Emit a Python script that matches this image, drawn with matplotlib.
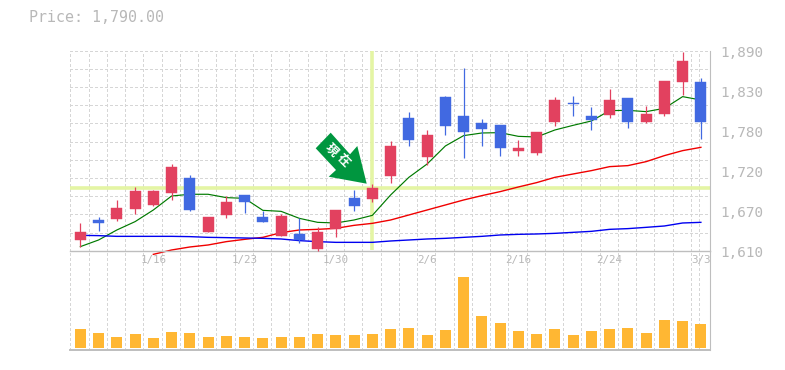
import matplotlib
matplotlib.use("Agg")
import matplotlib.pyplot as plt
from matplotlib.patches import Polygon
from matplotlib.transforms import Affine2D
import numpy as np

WIDTH, HEIGHT = 785, 370

# candles
highs = [1648.8, 1657.2, 1681, 1699.2, 1695, 1731.4, 1716, 1657.7, 1686.6, 1688, 1665.6, 1661.4,
         1655.8, 1643.2, 1667, 1695, 1703.4, 1763.6, 1804.2, 1779, 1826.6, 1865.8, 1794.4, 1786,
         1765, 1776.2, 1825.2, 1826.6, 1811.2, 1836.4, 1823.8, 1812.6, 1847.6, 1888.2, 1851.8]
lows = [1615.2, 1637.6, 1651.6, 1661.4, 1672.6, 1681, 1665.6, 1636.2, 1655.8, 1662.8, 1650.2, 1630.6,
        1620.8, 1609.6, 1629.2, 1665.6, 1678.2, 1704.8, 1756.6, 1730, 1772, 1739.8, 1756.6, 1742.6,
        1742.6, 1744, 1784.6, 1798.6, 1779, 1795.8, 1781.8, 1788.8, 1798.6, 1828, 1766.4]
opens = [1625, 1653, 1654.4, 1668.4, 1674, 1690.8, 1711.8, 1636.2, 1660, 1688, 1657.2, 1630.6,
         1633.4, 1612.4, 1640.4, 1683.8, 1682.4, 1714.6, 1795.8, 1741.2, 1825.2, 1798.6, 1788.8, 1786,
         1749.6, 1746.8, 1790.2, 1816.8, 1798.6, 1800, 1823.8, 1790.2, 1801.4, 1846.2, 1846.2]
closes = [1636.2, 1648.8, 1669.8, 1693.6, 1693.6, 1727.2, 1667, 1657.2, 1678.2, 1678.2, 1650.2, 1658.6,
          1625, 1636.2, 1667, 1672.6, 1697.8, 1756.6, 1765, 1772, 1784.6, 1776.2, 1780.4, 1753.8,
          1753.8, 1776.2, 1821, 1815.4, 1793, 1821, 1790.2, 1801.4, 1847.6, 1875.6, 1790.2]

# moving averages
ma_green = [1615.7, 1625, 1639, 1650.7, 1667, 1686.6, 1689, 1689, 1684.3, 1683.3, 1666.5, 1665.1,
            1655.3, 1649.7, 1648.8, 1653, 1659.5, 1688, 1712.7, 1731.4, 1756.6, 1771.1, 1774.8, 1775.3,
            1770.1, 1769.2, 1779, 1785.5, 1791.6, 1806.1, 1806.5, 1804.7, 1809.3, 1825.7, 1821]
ma_red = [np.nan, np.nan, np.nan, np.nan, 1604.9, 1611, 1615.2, 1618, 1622.7, 1625.9, 1628.7, 1635.3,
          1639, 1639.9, 1641.3, 1645.5, 1648.3, 1653, 1660, 1667, 1674, 1681, 1687.1, 1692.7,
          1699.2, 1705.3, 1712.7, 1717.4, 1722.1, 1727.7, 1729.1, 1734.7, 1743.1, 1750.1, 1754.7]
ma_blue = [1631.5, 1631.1, 1630.1, 1630.1, 1630.1, 1630.1, 1629.7, 1628.7, 1628.3, 1627.8, 1627.3, 1626.4,
           1624.1, 1622.7, 1621.7, 1621.7, 1621.7, 1623.6, 1625, 1626.4, 1627.3, 1628.7, 1630.1, 1632,
           1632.9, 1633.4, 1634.3, 1635.7, 1637.1, 1639.9, 1640.9, 1642.7, 1644.6, 1648.8, 1649.7]

volumes = [57, 45, 33, 42, 30, 48, 45, 33, 36, 33, 30, 33, 33, 42, 39, 39, 42, 57,
           60, 39, 54, 213, 96, 75, 51, 42, 57, 39, 51, 57, 60, 45, 84, 81, 72]

date_idx = [4, 9, 14, 19, 24, 29, 34]
date_labels = ["1/16", "1/23", "1/30", "2/6", "2/16", "2/24", "3/3"]
price_ticks = [1610, 1666, 1722, 1778, 1834, 1890]
price_labels = ["1,610", "1,670", "1,720", "1,780", "1,830", "1,890"]
current_idx = 16

RED = "#E2415F"
BLUE = "#4169E1"
ORANGE = "#FFB733"
MARK = "#E4F5A4"
GRID = "#D6D6D6"
AXIS = "#BEBEBE"
TEXT = "#B8B8B8"
FONT = "DejaVu Sans Mono"


def axes_px(fig, left, top, right, bottom):
    return fig.add_axes([left / WIDTH, 1 - bottom / HEIGHT, (right - left) / WIDTH, (bottom - top) / HEIGHT])


fig = plt.figure(figsize=(WIDTH / 100, HEIGHT / 100), dpi=100)
vol = axes_px(fig, 70.3, 250.7, 710, 350)
ax = axes_px(fig, 70.3, 50.7, 710, 250.7)
ax.patch.set_alpha(0)

x = np.arange(len(closes))
edges = np.append(x - 0.55, 33.87)
dash = (0, (2.8, 2.8))

for a in (ax, vol):
    a.set_xlim(-0.55, 34.5)
    a.set_xticks(edges)
    a.tick_params(length=0, labelbottom=False, labelleft=False)
    a.grid(True, axis="x", color=GRID, lw=0.75, ls=dash, antialiased=False)
    a.set_axisbelow(True)
    for side in a.spines:
        a.spines[side].set_visible(False)
    a.spines["right"].set_visible(True)
    a.spines["right"].set_color(AXIS)
    a.spines["right"].set_linewidth(0.8)

# price panel
ax.set_ylim(1610, 1890)
ax.set_yticks(np.linspace(1610, 1890, 12))
ax.grid(True, axis="y", color=GRID, lw=0.75, ls=dash, antialiased=False)
ax.spines["bottom"].set_visible(True)
ax.spines["bottom"].set_color(AXIS)
ax.spines["bottom"].set_linewidth(1.0)

ax.axhline(closes[current_idx], color=MARK, lw=2.6, zorder=1.5)
ax.plot([current_idx, current_idx], [1611.5, 1890], color=MARK, lw=2.6, zorder=1.5, solid_capstyle="butt")

ax.plot(x, ma_green, color="#007A00", lw=0.85, clip_on=False, zorder=2.2)
ax.plot(x, ma_red, color="#F00000", lw=1.0, clip_on=False, zorder=2.2)
ax.plot(x, ma_blue, color="#0000F0", lw=1.0, clip_on=False, zorder=2.2)

colors = [RED if c >= o else BLUE for o, c in zip(opens, closes)]
ax.vlines(x, lows, highs, colors=colors, lw=0.9, zorder=3, clip_on=False)
body = np.abs(np.array(closes) - np.array(opens))
ax.bar(x, body, 0.6, bottom=np.minimum(opens, closes), color=colors, zorder=3.2, clip_on=False,
       linewidth=0.3, edgecolor=colors)

for t, lab in zip(price_ticks, price_labels):
    fig.text(720 / WIDTH, 1 - (253 - (t - 1610) * 200 / 280) / HEIGHT, lab, family=FONT, fontsize=10.4,
             color=TEXT, va="center", ha="left")

for i, lab in zip(date_idx, date_labels):
    ax.text(i, 1597, lab, family=FONT, fontsize=7.8, color=TEXT, ha="center", va="center", clip_on=False)

# volume panel
vol.set_ylim(-6, 291)
vol.set_yticks([])
vol.spines["bottom"].set_visible(True)
vol.spines["bottom"].set_color(AXIS)
vol.spines["bottom"].set_linewidth(1.4)
vol.bar(x, volumes, 0.6, color=ORANGE, zorder=3)

# arrow, drawn in figure pixels
arrow = [(330.7, 132.7), (315.7, 148.3), (336, 170), (328.7, 176.7), (366.7, 183.7), (357.3, 146), (350, 154.3)]
to_fig = Affine2D().scale(1, -1).translate(0, HEIGHT)
fig.add_artist(Polygon(arrow, closed=True, facecolor="#00963F", edgecolor="none", transform=to_fig, zorder=5))
for px, py, ch in ((331.7, 150, "現"), (343.3, 160.7, "在")):
    fig.text(px / WIDTH, 1 - py / HEIGHT, ch, family="Noto Sans CJK JP", fontsize=9, weight="bold",
             color="white", rotation=-45, rotation_mode="anchor", ha="center", va="center", zorder=6)

fig.text(29 / WIDTH, 1 - 18 / HEIGHT, "Price: 1,790.00", family=FONT, fontsize=10.8, color=TEXT,
         ha="left", va="center")

fig.savefig("out.png", dpi=100)
